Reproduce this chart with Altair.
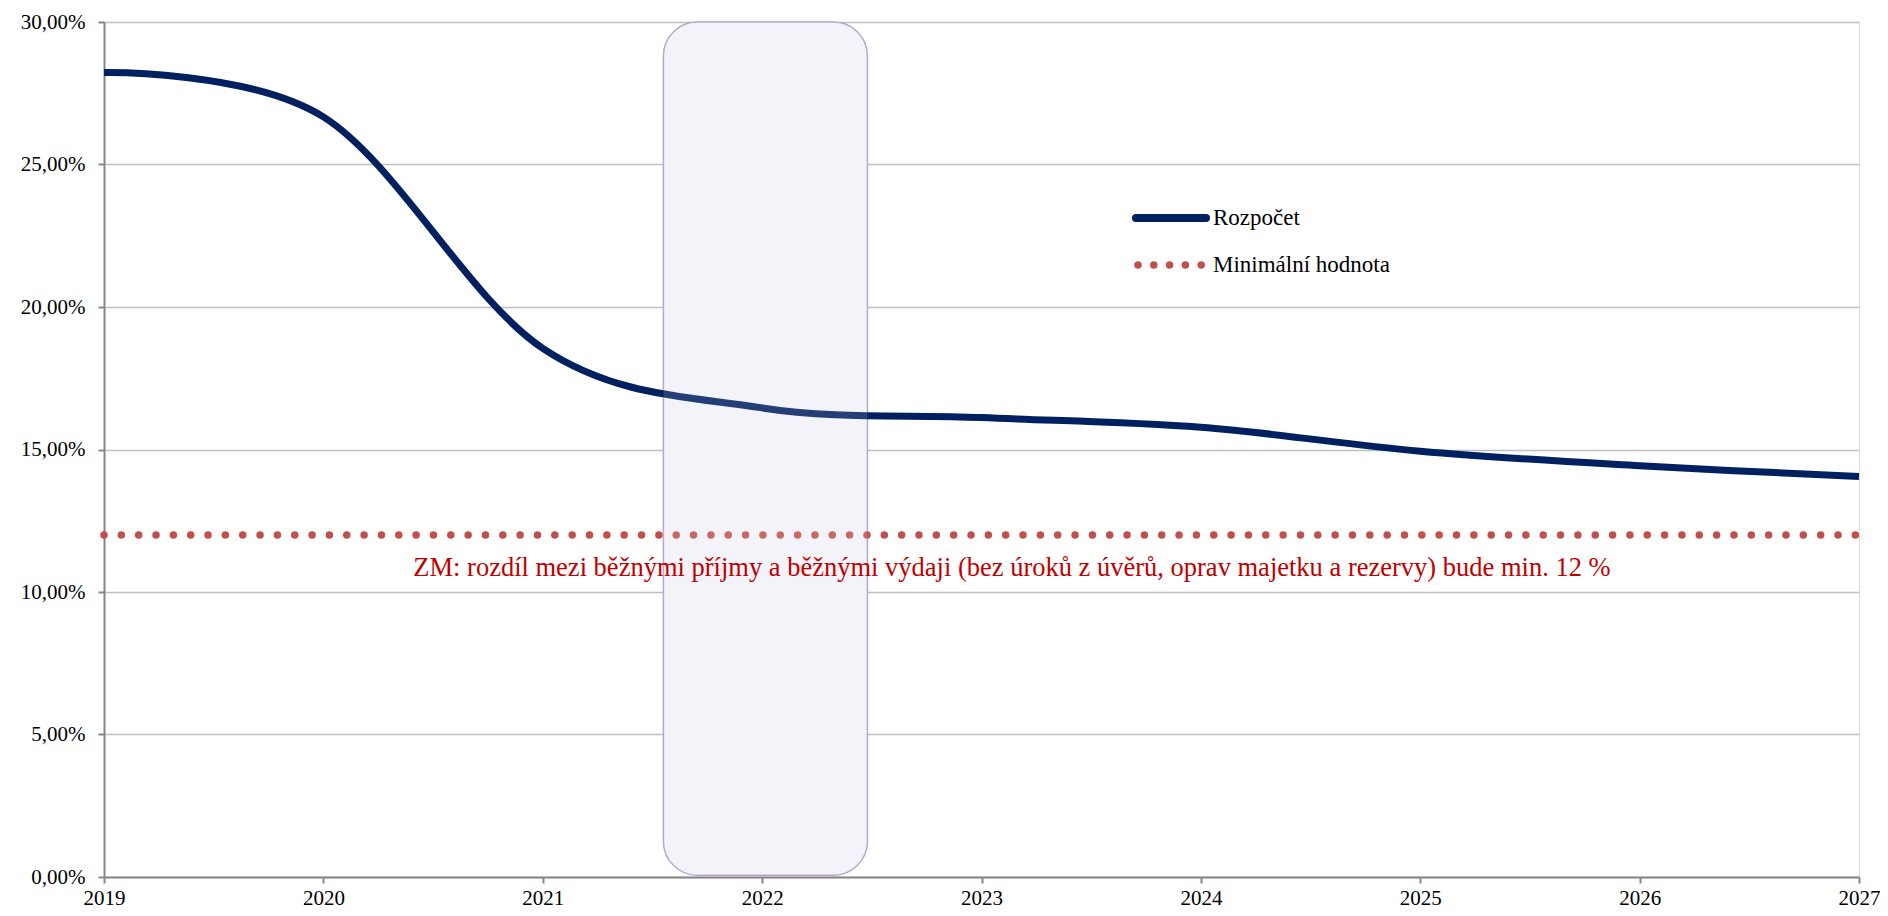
import altair as alt
import pandas as pd

# ---- data ----
years = [2019, 2020, 2021, 2022, 2023, 2024, 2025, 2026, 2027]
rozpocet = [0.2823, 0.2667, 0.1855, 0.1646, 0.1612, 0.1578, 0.1494, 0.1443, 0.1405]
min_value = 0.12
x_start = 2019
x_end = 2027
highlight_start = 2021.55
highlight_end = 2022.48
legend_labels = ["Rozpočet", "Minimální hodnota"]
annotation_text = ("ZM: rozdíl mezi běžnými příjmy a běžnými výdaji "
                   "(bez úroků z úvěrů, oprav majetku a rezervy) bude min. 12 %")
annotation_x = 2020.41
annotation_y = 0.1056
y_ticks = [0.0, 0.05, 0.10, 0.15, 0.20, 0.25, 0.30]

# ---- style ----
NAVY = "#002060"
RED = "#c0504d"
FONT = "Liberation Serif"
W, H = 1755, 855

df_line = pd.DataFrame({"year": years, "value": rozpocet})
df_min = pd.DataFrame({"x": [x_start], "x2": [x_end], "y": [min_value]})
df_hl = pd.DataFrame({"x": [highlight_start], "x2": [highlight_end], "y": [0.30], "y2": [0.0006]})
df_ann = pd.DataFrame({"x": [annotation_x], "y": [annotation_y], "t": [annotation_text]})
one = pd.DataFrame({"a": [0]})

xscale = alt.Scale(domain=[x_start, x_end], nice=False, zero=False)
yscale = alt.Scale(domain=[0, 0.30], nice=False)

xaxis = alt.Axis(values=years, format="d", title=None, grid=False,
                 domainColor="#868686", domainWidth=2, tickColor="#868686",
                 tickWidth=2, tickSize=6, labelPadding=4, labelFont=FONT,
                 labelFontSize=21, labelColor="#000000", labelFlush=False)
yaxis = alt.Axis(values=y_ticks, title=None, grid=True, gridColor="#c0c0c0",
                 gridWidth=1.5, domainColor="#868686", domainWidth=2,
                 tickColor="#868686", tickWidth=2, tickSize=6, labelPadding=13,
                 labelFont=FONT, labelFontSize=21, labelColor="#000000",
                 labelExpr="replace(format(datum.value, '.2%'), '.', ',')")

base_rect = alt.Chart(df_hl).mark_rect(
    cornerRadius=34, fill="#f3f1f8", stroke="#b3a2c7", strokeWidth=1.5
).encode(
    x=alt.X("x:Q", scale=xscale, axis=xaxis),
    x2="x2:Q",
    y=alt.Y("y:Q", scale=yscale, axis=yaxis),
    y2="y2:Q",
)

line = alt.Chart(df_line).mark_line(
    color=NAVY, strokeWidth=7, interpolate="cardinal", tension=0
).encode(
    x=alt.X("year:Q", scale=xscale),
    y=alt.Y("value:Q", scale=yscale),
)

overlay = alt.Chart(df_hl).mark_rect(
    cornerRadius=34, fill="#ffffff", opacity=0.14
).encode(x="x:Q", x2="x2:Q", y="y:Q", y2="y2:Q")

dots = alt.Chart(df_min).mark_rule(
    color=RED, strokeWidth=7.5, strokeDash=[0, 17.34], strokeCap="round"
).encode(x="x:Q", x2="x2:Q", y="y:Q")

ann = alt.Chart(df_ann).mark_text(
    font=FONT, fontSize=26.5, color="#c00000", align="left", baseline="alphabetic"
).encode(x="x:Q", y="y:Q", text="t:N")

# legend (decoration)
leg_line = alt.Chart(one).mark_rule(color=NAVY, strokeWidth=8, strokeCap="round").encode(
    x=alt.value(1032), x2=alt.value(1102), y=alt.value(196))
leg_dots = alt.Chart(one).mark_rule(
    color=RED, strokeWidth=7.5, strokeDash=[0, 15.8], strokeCap="round"
).encode(x=alt.value(1034), x2=alt.value(1100), y=alt.value(243))
leg_t1 = alt.Chart(one).mark_text(
    text=legend_labels[0], font=FONT, fontSize=23, align="left", baseline="alphabetic", color="#000000"
).encode(x=alt.value(1109), y=alt.value(203))
leg_t2 = alt.Chart(one).mark_text(
    text=legend_labels[1], font=FONT, fontSize=23, align="left", baseline="alphabetic", color="#000000"
).encode(x=alt.value(1109), y=alt.value(250))

chart = alt.layer(
    base_rect, line, dots, overlay, ann, leg_line, leg_dots, leg_t1, leg_t2
).properties(
    width=W, height=H,
    autosize=alt.AutoSizeParams(type="none"),
    padding={"left": 96, "top": 14, "right": 21, "bottom": 31},
).configure_view(stroke=None).configure(background="#ffffff")

chart.save("out.html", embed_options={"renderer": "svg", "actions": False})
